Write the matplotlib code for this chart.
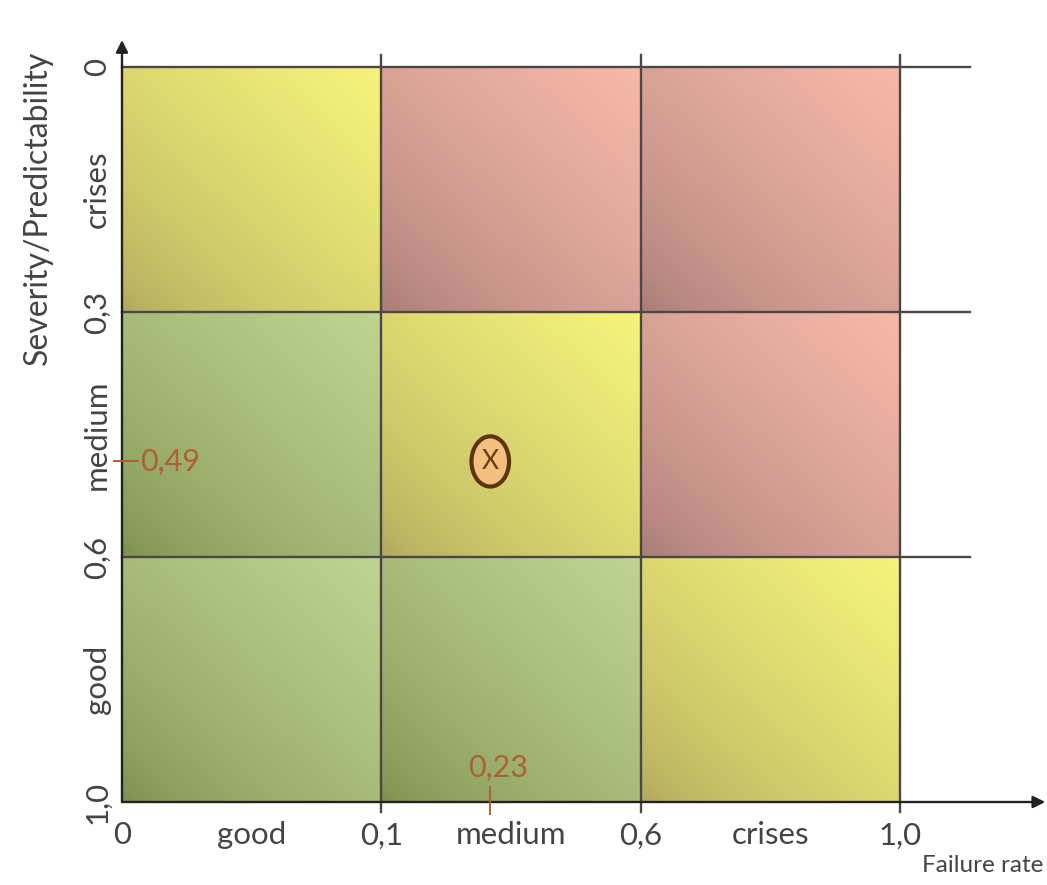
import numpy as np
import matplotlib
matplotlib.use("Agg")
import matplotlib.pyplot as plt
from matplotlib.patches import Ellipse

plt.rcParams['font.family'] = ['Lato', 'DejaVu Sans']

# ---- data ----
x_bounds = ["0", "0,1", "0,6", "1,0"]          # failure rate boundaries
y_bounds = ["0", "0,3", "0,6", "1,0"]          # severity boundaries
x_cats = ["good", "medium", "crises"]
y_cats = ["crises", "medium", "good"]           # top -> bottom
# risk level per cell, rows top->bottom, cols left->right
risk = [["yellow", "red", "red"],
        ["green", "yellow", "red"],
        ["green", "green", "yellow"]]
point_label_x = "0,23"
point_label_y = "0,49"
point_cell_x = 1.42   # position of the assessed point in matrix cell units
point_cell_y = 1.61

# gradient colours: (dark bottom-left, light top-right)
palette = {
    "yellow": ("#aea65c", "#f6f47c"),
    "red": ("#a67a76", "#f7b9a9"),
    "green": ("#7c8e4e", "#bfd492"),
}

W, H = 1047, 885
fig = plt.figure(figsize=(W / 100, H / 100), dpi=100)
ax = fig.add_axes([122 / W, (H - 802) / H, 778 / W, 735 / H])

n = 120
u = np.linspace(0, 1, n)[None, :]
v = np.linspace(0, 1, n)[:, None]
t = 1 - ((1 - u) + v) / 2
t = t ** 0.65

def rgb(h):
    return np.array(matplotlib.colors.to_rgb(h))

for r in range(3):
    for c in range(3):
        dk, lt = palette[risk[r][c]]
        img = rgb(dk)[None, None, :] + (rgb(lt) - rgb(dk))[None, None, :] * t[:, :, None]
        ax.imshow(img, extent=(c, c + 1, r + 1, r), origin="upper",
                  aspect="auto", interpolation="bilinear", zorder=1)

ax.set_xlim(0, 3)
ax.set_ylim(3, 0)

lc = "#4b4745"
# vertical grid lines
for xv in [1, 2, 3]:
    ax.plot([xv, xv], [-0.05, 3.04], color=lc, lw=1.7, clip_on=False, zorder=3)
# horizontal grid lines
for yv in [0, 1, 2]:
    ax.plot([0, 3.27], [yv, yv], color=lc, lw=1.7, clip_on=False, zorder=3)

# axes with arrows
ax.annotate("", xy=(3.56, 3), xytext=(0, 3),
            arrowprops=dict(arrowstyle="-|>", color="#222222", lw=1.7,
                            mutation_scale=18, shrinkA=0, shrinkB=0),
            annotation_clip=False, zorder=4)
ax.annotate("", xy=(0, -0.11), xytext=(0, 3),
            arrowprops=dict(arrowstyle="-|>", color="#222222", lw=1.7,
                            mutation_scale=18, shrinkA=0, shrinkB=0),
            annotation_clip=False, zorder=4)

for s in ax.spines.values():
    s.set_visible(False)

tc = "#444444"
# ticks
ax.set_xticks([0, 1, 2, 3])
ax.set_xticklabels(x_bounds)
ax.set_xticks([0.5, 1.5, 2.5], minor=True)
ax.set_xticklabels(x_cats, minor=True)
ax.set_yticks([0, 1, 2, 3])
ax.set_yticklabels(y_bounds, rotation=90, va="center")
ax.set_yticks([0.5, 1.5, 2.5], minor=True)
ax.set_yticklabels(y_cats, minor=True, rotation=90, va="center")
ax.tick_params(axis="both", which="both", length=0, labelsize=22.5,
               labelcolor=tc)
ax.tick_params(axis="x", which="both", pad=14)
ax.tick_params(axis="y", which="both", pad=8)

# axis titles
fig.text(38 / W, 1 - 208 / H, "Severity/Predictability", rotation=90,
         ha="center", va="center", fontsize=23, color=tc)
fig.text(1043 / W, 1 - 866 / H, "Failure rate", ha="right", va="center",
         fontsize=17.5, color=tc)

# assessed point annotations
pc = "#b0602e"
ax.plot([-0.03, 0.06], [point_cell_y, point_cell_y], color=pc, lw=1.4,
        clip_on=False, zorder=5)
ax.text(0.07, point_cell_y, point_label_y, color=pc, fontsize=22,
        ha="left", va="center", zorder=5)
ax.plot([point_cell_x, point_cell_x], [2.94, 3.05], color=pc, lw=1.4,
        clip_on=False, zorder=5)
ax.text(point_cell_x + 0.03, 2.86, point_label_x, color=pc, fontsize=22,
        ha="center", va="center", zorder=5)

# marker
ax.add_patch(Ellipse((point_cell_x, point_cell_y), 0.145, 0.205,
                     facecolor="#f4c080", edgecolor="#5e3410", lw=3, zorder=6))
ax.text(point_cell_x, point_cell_y, "X", color="#6b3a12", fontsize=19,
        ha="center", va="center", zorder=7)

fig.savefig("out.png", dpi=100, facecolor="white")
